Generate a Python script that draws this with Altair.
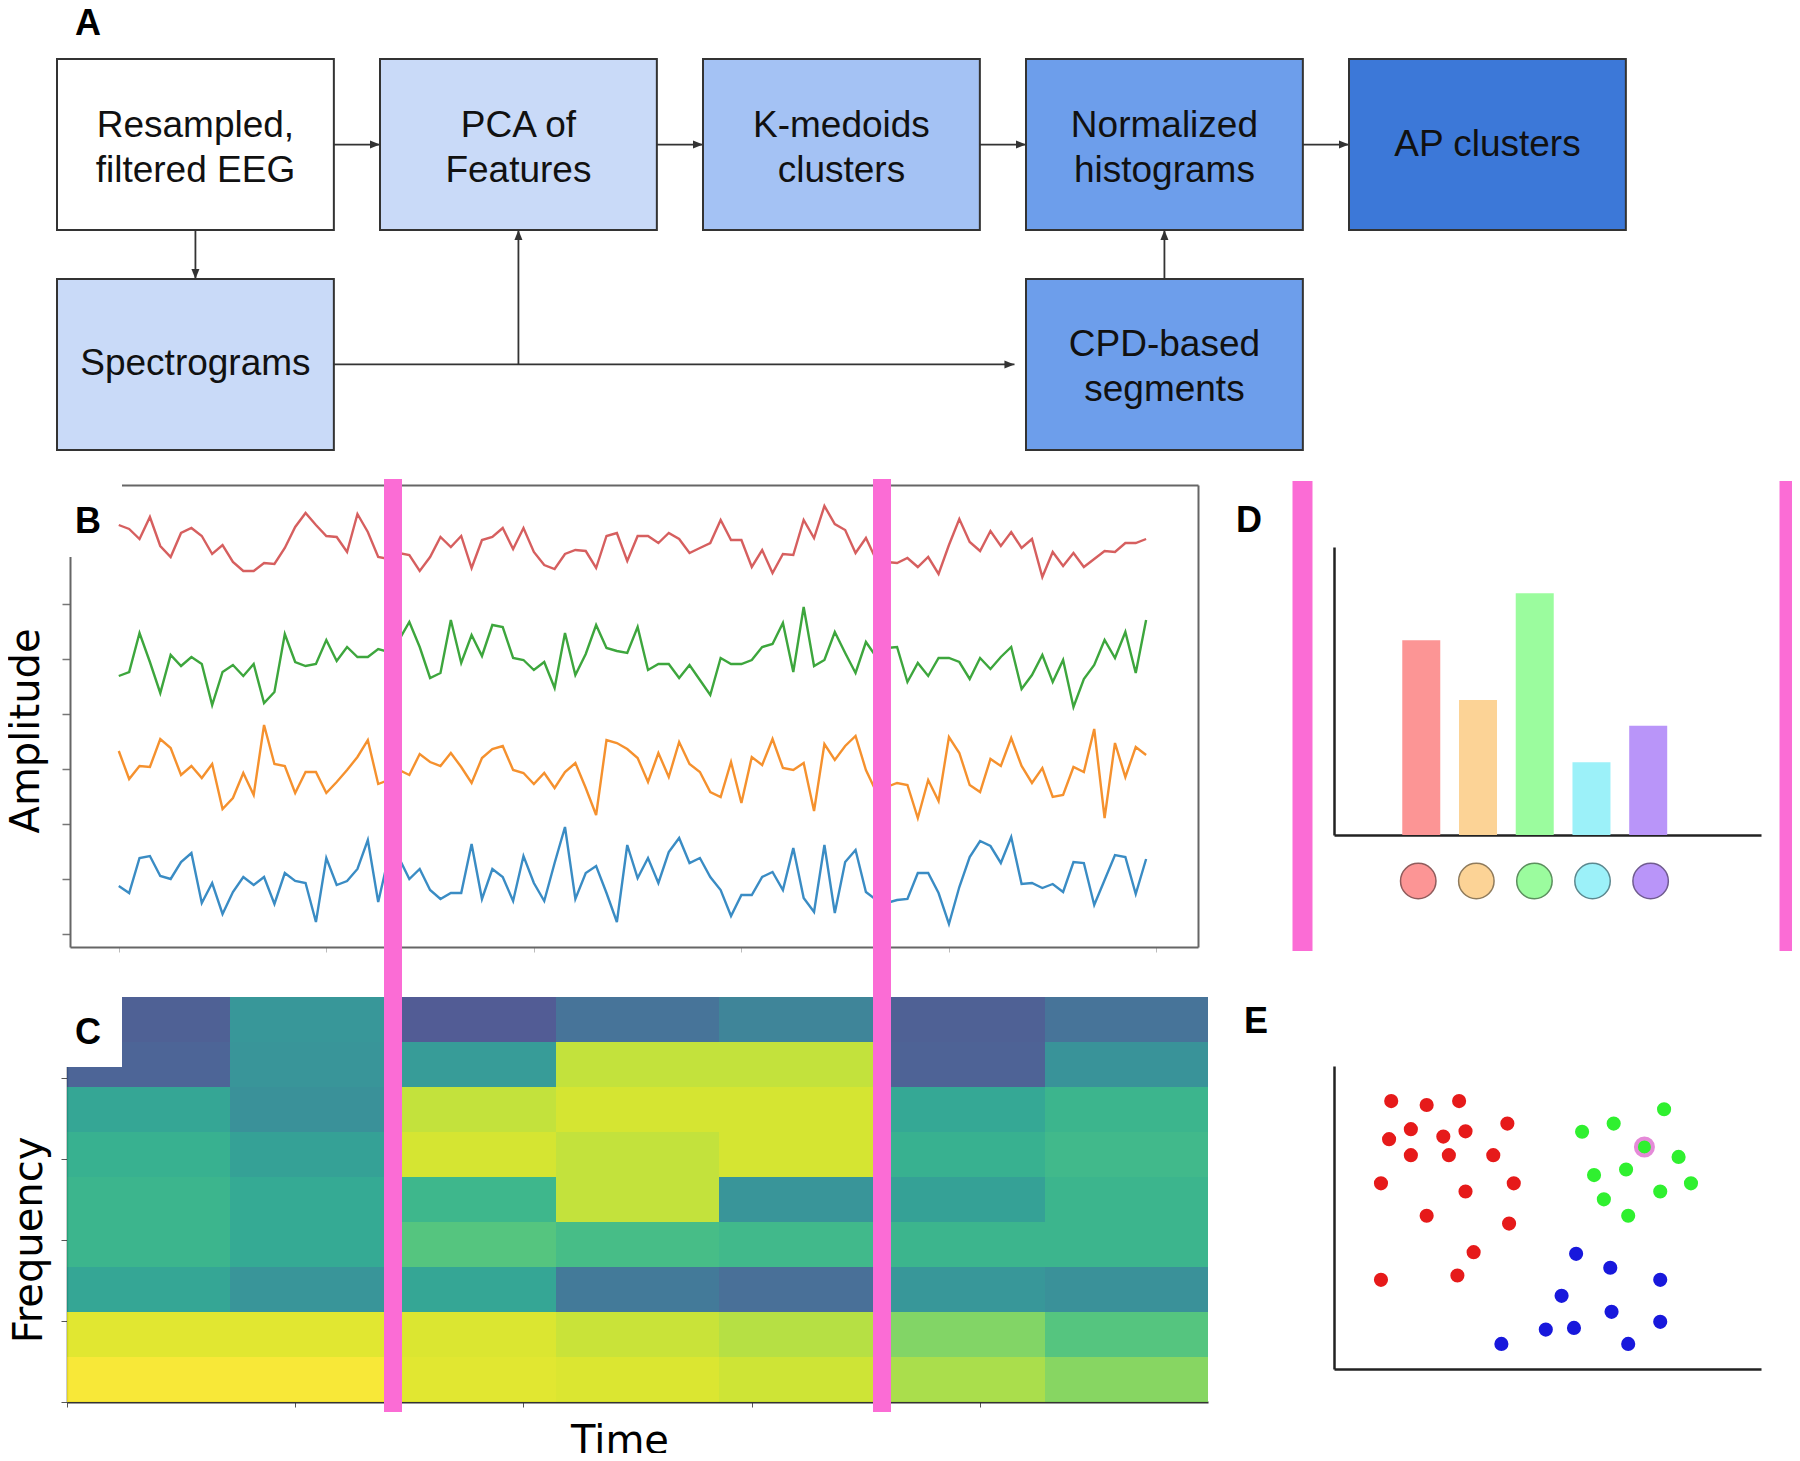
import altair as alt
import pandas as pd

# ======================= DATA =======================
# ---- Panel A: pipeline flowchart (grid units: column pitch 7, box width 6; row pitch 9, box height 7)
node_labels = ["Resampled,\nfiltered EEG", "PCA of\nFeatures", "K-medoids\nclusters",
               "Normalized\nhistograms", "AP clusters", "Spectrograms", "CPD-based\nsegments"]
node_col = [0, 1, 2, 3, 4, 0, 3]
node_row = [0, 0, 0, 0, 0, 1, 1]
node_fill = ["#ffffff", "#c9daf8", "#a4c2f4", "#6d9eeb", "#3c78d8", "#c9daf8", "#6d9eeb"]

edge_x0 = [6, 13, 20, 27, 3, 6, 10, 24]
edge_y0 = [3.5, 3.5, 3.5, 3.5, 7, 12.5, 12.5, 9]
edge_x1 = [7, 14, 21, 28, 3, 20.75, 10, 24]
edge_y1 = [3.5, 3.5, 3.5, 3.5, 9, 12.5, 7, 7]
edge_dir = ["right", "right", "right", "right", "down", "right", "up", "up"]

# ---- Panel B: four EEG channels (deviation from channel baseline)
time_idx = list(range(100))
red_dev = [24, 20, 10, 32, 3, -8, 16, 21, 13, -5, 4, -13, -22, -22, -14, -15, 1, 22, 36, 24,
           13, 12, -3, 35, 17, -8, -10, -4, -6, -22, -8, 12, 2, 13, -19, 9, 12, 21, 0, 21,
           -3, -16, -20, -5, -1, -2, -19, 13, 16, -12, 13, 13, 6, 16, 10, -4, 1, 6, 29, 9,
           9, -18, -1, -24, -5, -6, 29, 11, 43, 25, 19, -4, 11, -11, -13, -14, -9, -18, -8, -25,
           4, 30, 7, -2, 18, 3, 17, 1, 10, -28, -3, -17, -4, -18, -10, -2, -3, 6, 6, 10]
green_dev = [-17, -13, 26, -3, -34, 4, -7, 2, -5, -46, -13, -6, -17, -5, -44, -33, 25, -3, -7, -5,
             19, -2, 12, 2, 2, 10, 7, 19, 37, 12, -19, -14, 39, -4, 24, 3, 34, 32, 1, -1,
             -11, -3, -29, 26, -16, 5, 34, 11, 8, 6, 32, -11, -5, -5, -19, -6, -21, -36, 1, -5,
             -5, -1, 12, 15, 36, -13, 52, -7, -1, 27, 6, -14, 17, 2, 11, 12, -23, -4, -17, 1,
             1, -3, -20, 1, -10, 2, 12, -30, -16, 4, -23, -1, -48, -20, -6, 19, 1, 27, -14, 39]
orange_dev = [18, -10, 3, 2, 30, 21, -6, 3, -9, 5, -40, -29, -4, -26, 44, 5, 3, -24, -3, -3,
              -24, -13, -1, 12, 29, -15, -11, -1, -6, 15, 7, 3, 16, 2, -14, 11, 20, 23, -1, -4,
              -15, -4, -19, -3, 6, -19, -46, 29, 26, 20, 11, -13, 16, -8, 27, 5, -3, -23, -28, 7,
              -34, 12, 4, 30, 1, -1, 6, -42, 25, 9, 23, 33, -1, -23, -18, -14, -16, -49, -11, -32,
              32, 16, -16, -23, 10, 3, 31, 3, -14, 1, -28, -26, 2, -3, 40, -49, 26, -8, 22, 14]
blue_dev = [-7, -14, 21, 23, 3, 0, 17, 26, -24, -4, -35, -13, 2, -6, 2, -25, 6, -2, -4, -43,
            21, -6, -2, 10, 39, -23, 22, 21, 0, 10, -11, -20, -14, -14, 35, -20, 10, 2, -22, 23,
            -4, -22, 16, 52, -20, 6, 13, -14, -43, 34, 1, 21, -4, 27, 41, 16, 21, 2, -11, -37,
            -16, -16, 2, 7, -11, 31, -19, -33, 34, -34, 17, 29, -13, -21, -24, -21, -20, 6, 6, -14,
            -45, -8, 22, 38, 33, 16, 42, -5, -4, -9, -5, -13, 17, 16, -26, -1, 24, 22, -15, 20]
channel_names = ["ch1", "ch2", "ch3", "ch4"]
channel_offset = [330, 220, 110, 0]
amp_ticks = [-55, 0, 55, 110, 165, 220, 275]
time_ticks = [0, 20, 40, 60, 80, 100]

# ---- Panel C: spectrogram power (rows: high -> low frequency; 7 time segments)
spec_power = [
    [0.24, 0.48, 0.22, 0.32, 0.40, 0.24, 0.32],
    [0.26, 0.47, 0.50, 0.90, 0.90, 0.25, 0.46],
    [0.55, 0.45, 0.90, 0.93, 0.93, 0.56, 0.62],
    [0.60, 0.53, 0.93, 0.90, 0.93, 0.60, 0.64],
    [0.62, 0.57, 0.63, 0.90, 0.47, 0.53, 0.62],
    [0.62, 0.57, 0.70, 0.66, 0.64, 0.62, 0.62],
    [0.55, 0.47, 0.55, 0.35, 0.30, 0.48, 0.45],
    [0.95, 0.95, 0.94, 0.91, 0.88, 0.79, 0.70],
    [0.99, 0.99, 0.95, 0.94, 0.92, 0.86, 0.80],
]
seg_len = 5
freq_bin = 5
spec_time_ticks = [0, 7, 14, 21, 28]
freq_ticks = [0, 9, 18, 27, 36]
cpd_times = [10, 25]

# ---- Panel D: normalized histogram of cluster labels
cluster_ids = [1, 2, 3, 4, 5]
hist_values = [0.257, 0.178, 0.319, 0.096, 0.144]

# ---- Panel E: AP clustering scatter
red_x = [1.34, 2.17, 2.93, 4.06, 1.80, 1.29, 2.56, 3.08, 1.80, 2.69, 3.73, 1.10, 4.21, 3.08, 2.17, 4.10, 3.27, 1.10, 2.89]
red_y = [6.19, 6.10, 6.19, 5.67, 5.54, 5.31, 5.37, 5.49, 4.94, 4.94, 4.94, 4.29, 4.29, 4.10, 3.54, 3.36, 2.70, 2.06, 2.16]
green_x = [5.81, 6.55, 7.73, 7.27, 8.07, 6.84, 6.09, 8.36, 7.64, 6.32, 6.89]
green_y = [5.48, 5.67, 6.00, 5.13, 4.90, 4.61, 4.48, 4.29, 4.10, 3.92, 3.54]
blue_x = [5.67, 6.47, 7.64, 5.33, 6.50, 7.64, 4.96, 5.62, 3.92, 6.89]
blue_y = [2.66, 2.34, 2.06, 1.69, 1.32, 1.09, 0.91, 0.95, 0.58, 0.58]
exemplar_index = 3

# ======================= STYLE / LAYOUT =======================
W, H = 1784, 1445
L = {
    "A_x": [49, 1664], "A_y": [51, 442],
    "B_x": [62, 1190], "B_y": [939, 477],
    "C_x": [59, 1200], "C_y": [1394, 989],
    "D_x": [1326, 1753], "D_y": [827, 539],
    "E_x": [1326, 1753], "E_y": [1361, 1058],
}
PINK = "#fb6cd5"
line_colors = ["#d65f5f", "#3da63d", "#f5912e", "#3a8cc4"]
cluster_fill = ["#fc9595", "#fcd396", "#9bfc9e", "#9cf1f9", "#b995f9"]
cluster_edge = ["#8f5c5c", "#8f7b5c", "#5c8f5e", "#5c888f", "#705c8f"]
scatter_colors = ["#e61a1a", "#2ff02f", "#1818dc"]
arrow_paths = ["M0,0L-2,-0.8L-2,0.8Z", "M0,0L-0.8,2L0.8,2Z", "M0,0L-0.8,-2L0.8,-2Z"]
SANS = "Liberation Sans"
MPL = "DejaVu Sans"
BOX_LINE_H = 45

def S(dom, rng):
    return alt.Scale(domain=dom, range=rng, nice=False, zero=False)

def AX(orient, offset, **kw):
    base = dict(orient=orient, offset=offset, labels=False, title=None, grid=False)
    base.update(kw)
    return alt.Axis(**base)

# ======================= FRAMES =======================
nodes = pd.DataFrame({"label": node_labels, "col": node_col, "row": node_row, "fill": node_fill})
nodes["x0"] = nodes["col"] * 7
nodes["x1"] = nodes["x0"] + 6
nodes["y0"] = nodes["row"] * 9
nodes["y1"] = nodes["y0"] + 7
nodes["cx"] = nodes["x0"] + 3
nodes["cy"] = nodes["y0"] + 3.5
nodes["multi"] = nodes["label"].str.contains("\n")
edges = pd.DataFrame({"x0": edge_x0, "y0": edge_y0, "x1": edge_x1, "y1": edge_y1, "dir": edge_dir})

series = [red_dev, green_dev, orange_dev, blue_dev]
b_rows = []
for name, off, dev in zip(channel_names, channel_offset, series):
    for t, d in zip(time_idx, dev):
        b_rows.append({"t": t, "amp": off + d, "channel": name})
b_df = pd.DataFrame(b_rows)

c_rows = []
n_rows = len(spec_power)
for r, row in enumerate(spec_power):
    for c, p in enumerate(row):
        f1 = (n_rows - r) * freq_bin
        c_rows.append({"t0": c * seg_len, "t1": (c + 1) * seg_len, "f0": f1 - freq_bin, "f1": f1, "power": p})
c_df = pd.DataFrame(c_rows)
cpd_df = pd.DataFrame({"t": cpd_times})

d_df = pd.DataFrame({"k": cluster_ids, "h": hist_values, "cluster": [str(k) for k in cluster_ids]})

e_df = pd.DataFrame({
    "x": red_x + green_x + blue_x,
    "y": red_y + green_y + blue_y,
    "cluster": ["red"] * len(red_x) + ["green"] * len(green_x) + ["blue"] * len(blue_x),
})
med_df = pd.DataFrame({"x": [green_x[exemplar_index]], "y": [green_y[exemplar_index]]})

# annotation layout (canvas pixels)
patch_df = pd.DataFrame({"x0": [30, 30], "x1": [114, 114], "y0": [458, 981], "y1": [549, 1059]})
label_df = pd.DataFrame({"text": ["A", "B", "C", "D", "E"],
                         "px": [67, 67, 67, 1228, 1236], "py": [27, 525, 1036, 524, 1025]})
vtitle_df = pd.DataFrame({"text": ["Amplitude", "Frequency"], "px": [19, 22], "py": [723, 1232]})
htitle_df = pd.DataFrame({"text": ["Time"], "px": [612], "py": [1434]})
bracket_df = pd.DataFrame({"px": [1294.5, 1781.5]})

# ======================= LAYERS =======================
ax_, ay_ = S([0, 35], L["A_x"]), S([0, 16], L["A_y"])
bx_, by_ = S([-4.7, 104], L["B_x"]), S([-68, 394], L["B_y"])
cx_, cy_ = S([0, 35], L["C_x"]), S([0, 45], L["C_y"])
dx_, dy_ = S([-0.45, 6.9], L["D_x"]), S([0, 0.38], L["D_y"])
ex_, ey_ = S([0, 10], L["E_x"]), S([0, 7], L["E_y"])

boxes = alt.Chart(nodes).mark_rect(stroke="#333333", strokeWidth=2).encode(
    x=alt.X("x0:Q", scale=ax_, axis=None), x2="x1:Q",
    y=alt.Y("y0:Q", scale=ay_, axis=None), y2="y1:Q",
    fill=alt.Fill("fill:N", scale=None))

edge_lines = alt.Chart(edges).mark_rule(color="#333333", strokeWidth=1.8).encode(
    x=alt.X("x0:Q", scale=ax_, axis=None), x2="x1:Q",
    y=alt.Y("y0:Q", scale=ay_, axis=None), y2="y1:Q")

heads = alt.Chart(edges).mark_point(filled=True, size=100, color="#333333", opacity=1).encode(
    x=alt.X("x1:Q", scale=ax_, axis=None), y=alt.Y("y1:Q", scale=ay_, axis=None),
    shape=alt.Shape("dir:N", scale=alt.Scale(domain=["right", "up", "down"], range=arrow_paths), legend=None))

def box_text_layer(multi):
    return alt.Chart(nodes[nodes["multi"] == multi]).mark_text(
        font=SANS, fontSize=37, lineBreak="\n", lineHeight=BOX_LINE_H, color="#111111",
        align="center", baseline="middle", dy=(-19 if multi else 0)).encode(
        x=alt.X("cx:Q", scale=ax_, axis=None), y=alt.Y("cy:Q", scale=ay_, axis=None), text="label:N")

text_multi = box_text_layer(True)
text_single = box_text_layer(False)

heat = alt.Chart(c_df).mark_rect(opacity=0.9).encode(
    x=alt.X("t0:Q", scale=cx_, axis=AX("bottom", L["C_y"][0] - H, values=spec_time_ticks, tickSize=5,
                                        tickColor="#555555", domainColor="#333333", domainWidth=2)),
    x2="t1:Q",
    y=alt.Y("f0:Q", scale=cy_, axis=AX("left", -L["C_x"][0], values=freq_ticks, tickSize=6,
                                        tickColor="#555555", domainColor="#333333", domainWidth=1.5)),
    y2="f1:Q",
    color=alt.Color("power:Q", scale=alt.Scale(scheme="viridis", domain=[0, 1]), legend=None))

b_frame = alt.Chart(b_df).mark_line(strokeOpacity=0).encode(
    x=alt.X("t:Q", scale=bx_, axis=AX("top", -L["B_y"][1], ticks=False, domainColor="#666666", domainWidth=2)),
    y=alt.Y("amp:Q", scale=by_, axis=AX("right", L["B_x"][1] - W, ticks=False, domainColor="#666666", domainWidth=2)),
    detail="channel:N")

patches = alt.Chart(patch_df).mark_rect(color="white").encode(
    x=alt.X("x0:Q", scale=None, axis=None), x2="x1:Q",
    y=alt.Y("y0:Q", scale=None, axis=None), y2="y1:Q")

b_lines = alt.Chart(b_df).mark_line(strokeWidth=2.4).encode(
    x=alt.X("t:Q", scale=bx_, axis=AX("bottom", L["B_y"][0] - H, values=time_ticks, tickSize=5,
                                       tickColor="#bbbbbb", domainColor="#666666", domainWidth=2)),
    y=alt.Y("amp:Q", scale=by_, axis=AX("left", -L["B_x"][0], values=amp_ticks, tickSize=8, tickWidth=1.5,
                                         tickColor="#777777", domainColor="#666666", domainWidth=2)),
    color=alt.Color("channel:N", scale=alt.Scale(domain=channel_names, range=line_colors), legend=None),
    detail="channel:N")

pink = alt.Chart(cpd_df).mark_rule(color=PINK, strokeWidth=18).encode(
    x=alt.X("t:Q", scale=cx_, axis=None), y=alt.value(471), y2=alt.value(1404))

brackets = alt.Chart(bracket_df).mark_rule(color=PINK, strokeWidth=20).encode(
    x=alt.X("px:Q", scale=None, axis=None), y=alt.value(473), y2=alt.value(943))

bars = alt.Chart(d_df).mark_bar(size=38).encode(
    x=alt.X("k:Q", scale=dx_, axis=AX("bottom", L["D_y"][0] - H, ticks=False, domainColor="#222222", domainWidth=2.5)),
    y=alt.Y("h:Q", scale=dy_, axis=AX("left", -L["D_x"][0], ticks=False, domainColor="#222222", domainWidth=2.5)),
    y2=alt.datum(0),
    color=alt.Color("cluster:N", scale=alt.Scale(domain=[str(k) for k in cluster_ids], range=cluster_fill), legend=None))

circles = alt.Chart(d_df).mark_point(filled=True, size=1257, strokeWidth=1.5, opacity=1).encode(
    x=alt.X("k:Q", scale=dx_, axis=None), y=alt.value(873),
    fill=alt.Fill("cluster:N", scale=alt.Scale(domain=[str(k) for k in cluster_ids], range=cluster_fill), legend=None),
    stroke=alt.Stroke("cluster:N", scale=alt.Scale(domain=[str(k) for k in cluster_ids], range=cluster_edge), legend=None))

pts = alt.Chart(e_df).mark_circle(size=200, opacity=1).encode(
    x=alt.X("x:Q", scale=ex_, axis=AX("bottom", L["E_y"][0] - H, ticks=False, domainColor="#222222", domainWidth=2.5)),
    y=alt.Y("y:Q", scale=ey_, axis=AX("left", -L["E_x"][0], ticks=False, domainColor="#222222", domainWidth=2.5)),
    color=alt.Color("cluster:N", scale=alt.Scale(domain=["red", "green", "blue"], range=scatter_colors), legend=None))

ring = alt.Chart(med_df).mark_point(size=290, strokeWidth=4, color="#e58ad8", opacity=1).encode(
    x=alt.X("x:Q", scale=ex_, axis=None), y=alt.Y("y:Q", scale=ey_, axis=None))

labels = alt.Chart(label_df).mark_text(font=SANS, fontSize=36, fontWeight="bold", color="#000000",
                                       align="left", baseline="alphabetic").encode(
    x=alt.X("px:Q", scale=None, axis=None), y=alt.Y("py:Q", scale=None, axis=None), text="text:N")

vtitles = alt.Chart(vtitle_df).mark_text(font=MPL, fontSize=40, color="#000000", angle=270,
                                         align="center", baseline="middle").encode(
    x=alt.X("px:Q", scale=None, axis=None), y=alt.Y("py:Q", scale=None, axis=None), text="text:N")

htitle = alt.Chart(htitle_df).mark_text(font=MPL, fontSize=40, color="#000000",
                                        align="center", baseline="middle").encode(
    x=alt.X("px:Q", scale=None, axis=None), y=alt.Y("py:Q", scale=None, axis=None), text="text:N")

chart = alt.layer(
    boxes, edge_lines, heads, text_multi, text_single,
    heat, b_frame, patches, b_lines, pink,
    brackets, bars, circles, pts, ring,
    labels, vtitles, htitle,
).resolve_scale(
    x="independent", y="independent", color="independent",
    fill="independent", stroke="independent", shape="independent",
).properties(
    width=W, height=H, autosize=alt.AutoSizeParams(type="none"), padding=0, background="white",
).configure_view(stroke=None)

chart.save("out.html", embed_options={"renderer": "svg", "actions": False})
